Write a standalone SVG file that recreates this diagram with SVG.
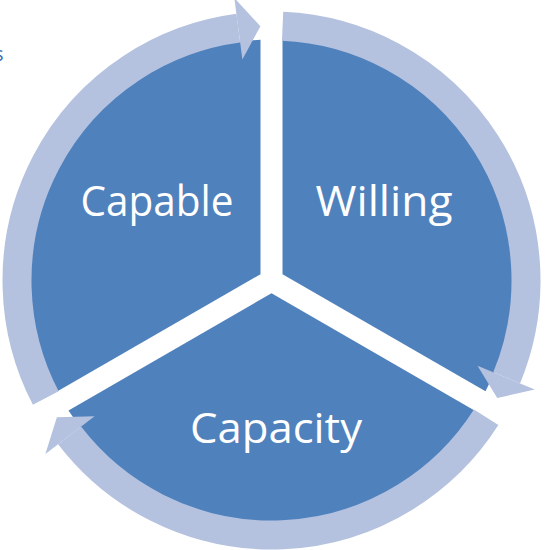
<svg xmlns="http://www.w3.org/2000/svg" width="546" height="550" viewBox="0 0 546 550">
  <style>
    .seg { fill: #4F81BD; }
    .lbl { fill: #FFFFFF; font-family: "Open Sans", "Liberation Sans", sans-serif; font-size: 42px; text-anchor: middle; }
    .ring { fill: none; stroke: #B4C2DF; stroke-width: 29; stroke-linecap: butt; }
    .head { fill: #B4C2DF; }
    .edge { fill: #3E6FB0; font-family: "Open Sans", "Liberation Sans", sans-serif; font-size: 20px; }
  </style>
  <rect width="546" height="550" fill="#FFFFFF"/>
  <text class="edge" x="-6" y="61">s</text>

  <g id="capable">
    <path class="seg" d="M 260.5,274.15 L 57.5,391.35 A 241 241 0 0 1 260.5,39.75 Z"/>
    <text class="lbl" x="157" y="216" textLength="153" lengthAdjust="spacingAndGlyphs">Capable</text>
  </g>
  <g id="willing">
    <path class="seg" d="M 282.5,274.15 L 282.5,39.75 A 241 241 0 0 1 485.5,391.35 Z"/>
    <text class="lbl" x="384" y="216" textLength="137" lengthAdjust="spacingAndGlyphs">Willing</text>
  </g>
  <g id="capacity">
    <path class="seg" d="M 271.5,293.2 L 474.5,410.4 A 241 241 0 0 1 68.5,410.4 Z"/>
    <text class="lbl" x="276" y="443" textLength="172" lengthAdjust="spacingAndGlyphs">Capacity</text>
  </g>

  <g id="connectors">
    <path class="ring" d="M 45.76,398.02 A 254.5 254.5 0 0 1 238.28,28.18"/>
    <polygon class="head" points="242.39,59.41 234.30,-2.06 260.40,26.24"/>
    <path class="ring" d="M 282.60,26.24 A 254.5 254.5 0 0 1 506.63,377.89"/>
    <polygon class="head" points="477.53,365.84 534.81,389.56 497.24,398.02"/>
    <path class="ring" d="M 486.14,417.24 A 254.5 254.5 0 0 1 69.59,435.43"/>
    <polygon class="head" points="94.58,416.25 45.40,454.00 56.86,417.24"/>
  </g>
</svg>
